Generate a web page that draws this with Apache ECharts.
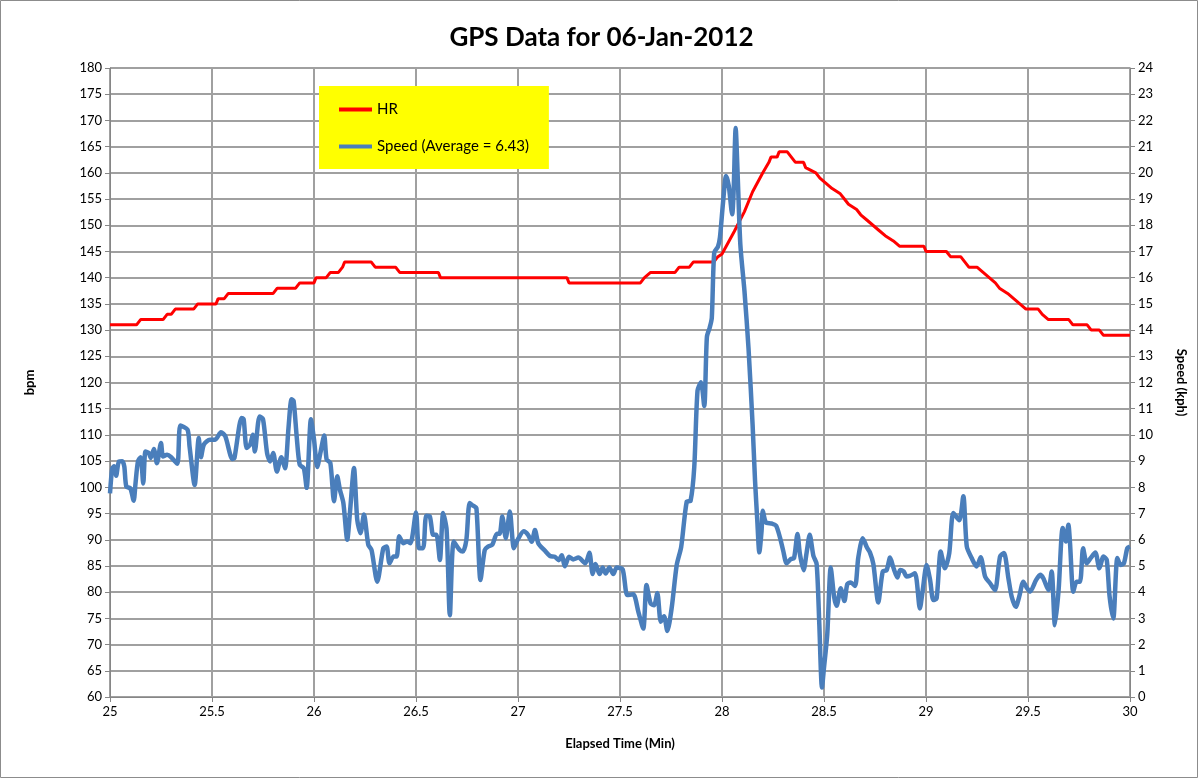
<!DOCTYPE html>
<html>
<head>
<meta charset="utf-8">
<script src="https://cdn.jsdelivr.net/npm/echarts@6/dist/echarts.min.js"></script>
<style>
  html, body { margin: 0; padding: 0; background: #fff; }
  #chart { width: 1203px; height: 782px; }
</style>
</head>
<body>
<div id="chart"></div>
<script>
// HR, stepped in whole bpm
var hrTime = [25.00, 25.13, 25.15, 25.26, 25.28, 25.30, 25.32, 25.41, 25.43, 25.52, 25.53, 25.56, 25.58, 25.80,
  25.82, 25.91, 25.93, 26.00, 26.01, 26.06, 26.08, 26.12, 26.14, 26.15, 26.28, 26.30, 26.40, 26.42, 26.61,
  26.62, 27.24, 27.25, 27.60, 27.62, 27.65, 27.77, 27.79, 27.84, 27.86, 27.96, 27.98, 28.00, 28.06, 28.11,
  28.15, 28.20, 28.23, 28.24, 28.27, 28.28, 28.32, 28.34, 28.36, 28.40, 28.41, 28.46, 28.48, 28.51, 28.54,
  28.58, 28.60, 28.62, 28.66, 28.68, 28.71, 28.74, 28.77, 28.80, 28.84, 28.87, 28.99, 29.00, 29.10, 29.12,
  29.17, 29.19, 29.21, 29.25, 29.28, 29.31, 29.34, 29.36, 29.40, 29.43, 29.46, 29.49, 29.55, 29.57, 29.60,
  29.70, 29.72, 29.79, 29.81, 29.85, 29.87, 30.00];
var hrBpm = [131, 131, 132, 132, 133, 133, 134, 134, 135, 135, 136, 136, 137, 137,
  138, 138, 139, 139, 140, 140, 141, 141, 142, 143, 143, 142, 142, 141, 141,
  140, 140, 139, 139, 140, 141, 141, 142, 142, 143, 143, 144, 144.5, 148.8, 152.6,
  156.4, 160, 162, 163, 163, 164, 164, 163, 162, 162, 161, 160, 159, 158, 157,
  156, 155, 154, 153, 152, 151, 150, 149, 148, 147, 146, 146, 145, 145, 144,
  144, 143, 142, 142, 141, 140, 139, 138, 137, 136, 135, 134, 134, 133, 132,
  132, 131, 131, 130, 130, 129, 129];

// speed in kph (right axis)
var speedTime = [25.000, 25.011, 25.020, 25.030, 25.044, 25.060, 25.070, 25.080, 25.100, 25.116, 25.125, 25.137,
  25.150, 25.163, 25.174, 25.190, 25.200, 25.215, 25.230, 25.250, 25.260, 25.280, 25.300, 25.330, 25.345,
  25.380, 25.390, 25.415, 25.435, 25.446, 25.460, 25.490, 25.516, 25.544, 25.565, 25.600, 25.610, 25.645,
  25.655, 25.670, 25.687, 25.700, 25.710, 25.733, 25.750, 25.770, 25.785, 25.800, 25.818, 25.840, 25.858,
  25.875, 25.890, 25.900, 25.915, 25.930, 25.950, 25.964, 25.985, 26.000, 26.016, 26.033, 26.050, 26.062,
  26.080, 26.098, 26.114, 26.127, 26.144, 26.163, 26.176, 26.196, 26.212, 26.228, 26.245, 26.266, 26.282,
  26.310, 26.340, 26.356, 26.370, 26.390, 26.405, 26.418, 26.437, 26.457, 26.473, 26.500, 26.515, 26.535,
  26.550, 26.568, 26.584, 26.600, 26.617, 26.633, 26.650, 26.666, 26.685, 26.714, 26.730, 26.747, 26.763,
  26.780, 26.796, 26.816, 26.837, 26.853, 26.874, 26.897, 26.910, 26.923, 26.940, 26.960, 26.980, 27.000,
  27.028, 27.050, 27.067, 27.083, 27.100, 27.130, 27.157, 27.180, 27.200, 27.214, 27.230, 27.250, 27.270,
  27.296, 27.330, 27.350, 27.366, 27.380, 27.400, 27.415, 27.430, 27.448, 27.467, 27.484, 27.513, 27.536,
  27.565, 27.590, 27.614, 27.630, 27.650, 27.667, 27.683, 27.700, 27.716, 27.732, 27.753, 27.778, 27.800,
  27.827, 27.846, 27.864, 27.880, 27.897, 27.913, 27.926, 27.940, 27.950, 27.962, 27.980, 27.990, 28.005,
  28.020, 28.033, 28.050, 28.057, 28.067, 28.077, 28.090, 28.110, 28.130, 28.150, 28.162, 28.173, 28.183,
  28.194, 28.200, 28.215, 28.243, 28.265, 28.284, 28.300, 28.317, 28.337, 28.353, 28.370, 28.382, 28.400,
  28.415, 28.430, 28.448, 28.464, 28.477, 28.490, 28.500, 28.516, 28.533, 28.550, 28.562, 28.582, 28.600,
  28.614, 28.630, 28.652, 28.668, 28.690, 28.710, 28.725, 28.742, 28.766, 28.788, 28.807, 28.824, 28.840,
  28.860, 28.873, 28.890, 28.905, 28.920, 28.946, 28.970, 28.984, 29.003, 29.020, 29.036, 29.052, 29.072,
  29.093, 29.114, 29.134, 29.163, 29.183, 29.200, 29.224, 29.248, 29.268, 29.290, 29.314, 29.338, 29.363,
  29.382, 29.404, 29.420, 29.440, 29.457, 29.477, 29.493, 29.510, 29.540, 29.560, 29.575, 29.600, 29.616,
  29.632, 29.650, 29.670, 29.686, 29.698, 29.706, 29.722, 29.738, 29.755, 29.770, 29.788, 29.807, 29.830,
  29.850, 29.870, 29.886, 29.900, 29.918, 29.938, 29.954, 29.970, 29.987, 30.000];
var speedKph = [7.77, 8.73, 8.80, 8.44, 8.99, 9.00, 8.80, 8.03, 7.96, 7.49, 8.15, 8.99,
  9.15, 8.15, 9.37, 9.31, 9.12, 9.46, 8.92, 9.69, 9.18, 9.24, 9.15, 8.90, 10.36,
  10.20, 9.56, 8.09, 9.88, 9.15, 9.63, 9.82, 9.82, 10.10, 9.95, 9.08, 9.12, 10.65,
  10.60, 9.50, 9.63, 10.01, 9.37, 10.70, 10.60, 9.31, 8.99, 9.31, 8.60, 9.15, 8.73,
  10.27, 11.36, 11.30, 9.95, 8.86, 8.73, 7.98, 10.60, 9.83, 8.78, 9.38, 9.98, 9.06,
  8.93, 7.47, 8.42, 7.91, 7.40, 6.00, 7.02, 8.74, 6.76, 6.25, 6.96, 5.81, 5.61,
  4.40, 5.68, 5.74, 5.10, 5.36, 5.36, 6.13, 5.87, 5.93, 5.87, 7.04, 5.68, 5.68,
  6.92, 6.89, 6.19, 6.19, 5.23, 7.02, 6.38, 3.12, 5.93, 5.61, 5.55, 6.00, 7.40,
  7.30, 7.21, 4.46, 5.61, 5.74, 5.81, 6.23, 6.23, 6.89, 6.06, 7.08, 5.68, 6.02,
  6.32, 6.18, 5.92, 6.37, 5.86, 5.60, 5.38, 5.35, 5.22, 5.41, 4.99, 5.35, 5.25,
  5.32, 5.10, 5.50, 4.69, 5.07, 4.69, 4.94, 4.71, 4.94, 4.69, 4.94, 4.87, 3.89,
  3.92, 3.25, 2.61, 4.27, 3.57, 3.50, 3.97, 2.87, 3.08, 2.52, 3.38, 5.03, 5.73,
  7.45, 7.49, 8.77, 11.69, 12.01, 11.10, 13.74, 14.10, 14.47, 16.96, 17.18, 17.54, 18.86,
  19.88, 19.51, 18.42, 19.30, 21.71, 19.88, 17.25, 15.50, 13.30, 10.38, 8.25, 6.73, 5.52,
  6.34, 7.11, 6.66, 6.62, 6.54, 6.09, 5.58, 5.10, 5.26, 5.30, 6.22, 5.45, 4.84,
  5.52, 6.19, 5.39, 5.07, 2.78, 0.36, 1.12, 2.39, 4.94, 3.80, 3.48, 4.15, 3.66,
  4.30, 4.37, 4.24, 5.32, 6.06, 5.71, 5.52, 5.07, 3.61, 4.79, 4.84, 5.32, 4.94,
  4.56, 4.85, 4.79, 4.60, 4.62, 4.72, 3.38, 4.08, 5.04, 4.47, 3.70, 3.76, 5.55,
  4.91, 5.49, 7.02, 6.74, 7.66, 5.74, 5.30, 4.98, 5.33, 4.59, 4.34, 4.08, 5.36,
  5.49, 4.53, 3.83, 3.44, 3.83, 4.40, 4.18, 4.02, 4.47, 4.66, 4.53, 4.08, 4.79,
  2.74, 4.08, 6.45, 5.93, 6.57, 5.87, 4.02, 4.40, 4.40, 5.68, 5.10, 5.30, 5.51,
  4.91, 5.36, 5.23, 3.83, 3.00, 5.30, 5.04, 5.10, 5.68, 5.74];

var font = 'Lato';

var hrData = hrTime.map(function (t, i) { return [t, hrBpm[i]]; });
var speedData = speedTime.map(function (t, i) { return [t, speedKph[i]]; });

var myChart = echarts.init(document.getElementById('chart'));

var axisLabelStyle = { color: '#000', fontSize: 13, fontFamily: font };
var axisNameStyle = { color: '#000', fontSize: 13, fontWeight: 'bold', fontFamily: font };

var option = {
  animation: false,
  backgroundColor: '#fff',
  title: {
    text: 'GPS Data for 06-Jan-2012',
    left: 'center',
    top: 20,
    textStyle: { fontFamily: font, fontSize: 26, fontWeight: 'bold', color: '#000' }
  },
  legend: {
    orient: 'vertical',
    left: 319,
    top: 86,
    backgroundColor: '#ffff00',
    padding: [16, 20, 15, 20],
    itemGap: 22,
    itemWidth: 33,
    itemHeight: 4,
    icon: 'rect',
    textStyle: { fontFamily: font, fontSize: 15, color: '#000' },
    data: ['HR', 'Speed (Average = 6.43)']
  },
  grid: { left: 110, right: 73, top: 68, bottom: 85 },
  xAxis: {
    type: 'value',
    min: 25,
    max: 30,
    interval: 0.5,
    name: 'Elapsed Time (Min)',
    nameLocation: 'middle',
    nameGap: 40,
    nameTextStyle: axisNameStyle,
    axisLine: { lineStyle: { color: '#868686', width: 1 } },
    axisTick: { show: true, length: 5, lineStyle: { color: '#868686' } },
    axisLabel: axisLabelStyle,
    splitLine: { show: true, lineStyle: { color: '#a0a0a0', width: 2 } }
  },
  yAxis: [
    {
      type: 'value',
      min: 60,
      max: 180,
      interval: 5,
      name: 'bpm',
      nameLocation: 'middle',
      nameGap: 74,
      nameTextStyle: axisNameStyle,
      axisLine: { show: true, lineStyle: { color: '#868686' } },
      axisTick: { show: true, length: 5, lineStyle: { color: '#868686' } },
      axisLabel: axisLabelStyle,
      splitLine: { show: true, lineStyle: { color: '#a0a0a0', width: 2 } }
    },
    {
      type: 'value',
      min: 0,
      max: 24,
      interval: 1,
      name: 'Speed (kph)',
      nameLocation: 'middle',
      nameGap: 45,
      nameRotate: 270,
      nameTextStyle: axisNameStyle,
      axisLine: { show: true, lineStyle: { color: '#868686' } },
      axisTick: { show: true, length: 5, lineStyle: { color: '#868686' } },
      axisLabel: axisLabelStyle,
      splitLine: { show: false }
    }
  ],
  series: [
    {
      name: 'HR',
      type: 'line',
      yAxisIndex: 0,
      data: hrData,
      symbol: 'none',
      color: '#ff0000',
      lineStyle: { color: '#ff0000', width: 3 }
    },
    {
      name: 'Speed (Average = 6.43)',
      type: 'line',
      yAxisIndex: 1,
      data: speedData,
      symbol: 'none',
      smooth: 0.25,
      color: '#4a7ebb',
      lineStyle: { color: '#4a7ebb', width: 4.5 }
    }
  ],
  graphic: [
    {
      type: 'rect',
      shape: { x: 0.5, y: 0.5, width: 1197, height: 777 },
      style: { fill: 'none', stroke: '#8c8c8c', lineWidth: 1 },
      silent: true
    }
  ]
};

myChart.setOption(option);
</script>
</body>
</html>
